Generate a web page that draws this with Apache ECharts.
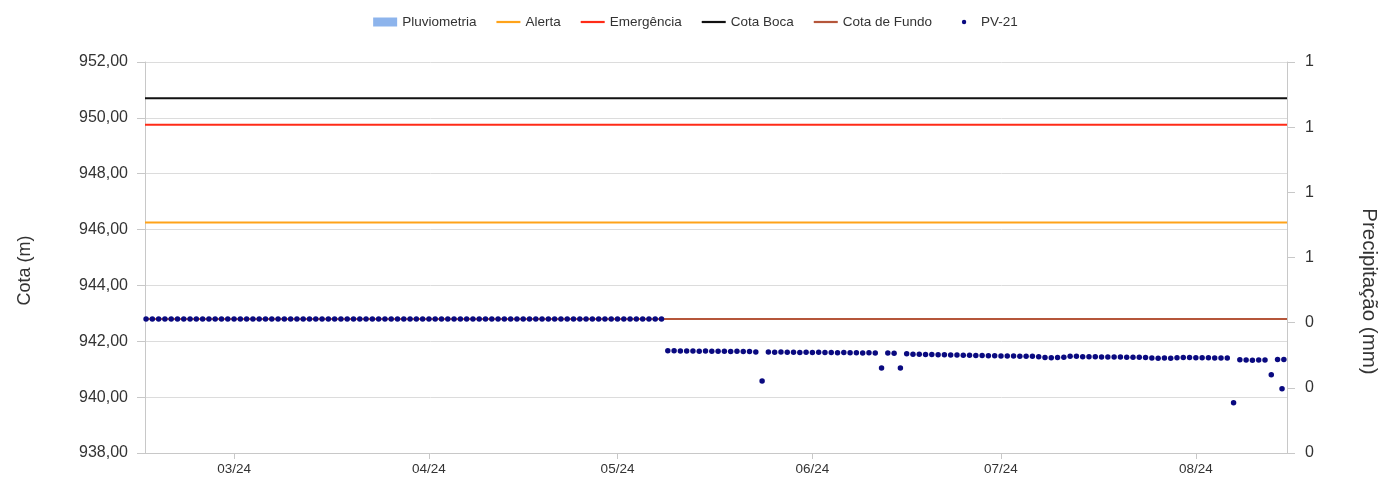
<!DOCTYPE html>
<html>
<head>
<meta charset="utf-8">
<script src="https://cdn.jsdelivr.net/npm/echarts@6/dist/echarts.min.js"></script>
<style>
html,body{margin:0;padding:0;background:#fff;}
#chart{width:1391px;height:480px;}
</style>
</head>
<body>
<div id="chart"></div>
<script>
// ---- data ----
const legendNames = ['Pluviometria', 'Alerta', 'Emergência', 'Cota Boca', 'Cota de Fundo', 'PV-21'];
const leftTicks = { min: 938, max: 952, step: 2 };
const rightTicks = { min: 0, max: 1.2, step: 0.2 };
const xRange = { start: [2024, 1, 15, 20], end: [2024, 7, 15, 12] };

const alerta = 946.25;
const emergencia = 949.75;
const cotaBoca = 950.70;
const cotaFundo = 942.80;

const pluviometria = []; // no rainfall recorded in the period

// PV-21 daily readings, first day 2024-02-16 (one value per day)
const pv21Start = [2024, 1, 16];
const pv21Daily = [
  942.80, 942.80, 942.80, 942.80, 942.80, 942.80, 942.80, 942.80, 942.80, 942.80,
  942.80, 942.80, 942.80, 942.80, 942.80, 942.80, 942.80, 942.80, 942.80, 942.80,
  942.80, 942.80, 942.80, 942.80, 942.80, 942.80, 942.80, 942.80, 942.80, 942.80,
  942.80, 942.80, 942.80, 942.80, 942.80, 942.80, 942.80, 942.80, 942.80, 942.80,
  942.80, 942.80, 942.80, 942.80, 942.80, 942.80, 942.80, 942.80, 942.80, 942.80,
  942.80, 942.80, 942.80, 942.80, 942.80, 942.80, 942.80, 942.80, 942.80, 942.80,
  942.80, 942.80, 942.80, 942.80, 942.80, 942.80, 942.80, 942.80, 942.80, 942.80,
  942.80, 942.80, 942.80, 942.80, 942.80, 942.80, 942.80, 942.80, 942.80, 942.80,
  942.80, 942.80, 942.80,
  941.66, 941.66, 941.65, 941.65, 941.65, 941.64, 941.65, 941.64, 941.64, 941.64,
  941.63, 941.64, 941.63, 941.63, 941.62,
  940.58,
  941.62, 941.61, 941.62, 941.61, 941.61, 941.60, 941.61, 941.60, 941.61, 941.60,
  941.60, 941.59, 941.60, 941.59, 941.59, 941.58, 941.59, 941.58,
  941.04,
  941.58, 941.57,
  941.04,
  941.55, 941.54, 941.54, 941.53, 941.53, 941.52, 941.52, 941.51, 941.51, 941.50,
  941.50, 941.49, 941.49, 941.48, 941.48, 941.47, 941.47, 941.47, 941.46, 941.46,
  941.46, 941.45,
  941.42, 941.41, 941.42, 941.43,
  941.46, 941.46, 941.45, 941.45, 941.45, 941.44, 941.44, 941.44, 941.44, 941.43,
  941.43, 941.43, 941.42,
  941.40, 941.39, 941.40, 941.39, 941.41,
  941.42, 941.42, 941.41, 941.41, 941.41, 941.40, 941.40, 941.40,
  939.80,
  941.34, 941.33, 941.32, 941.33, 941.33,
  940.80,
  941.35,
  941.35
];
// extra reading taken between daily readings
const pv21Extra = [[[2024, 7, 14, 17], 940.30]];

// ---- build ----
function ts(a) { return new Date(a[0], a[1], a[2], a[3] || 0).getTime(); }
const xMin = ts(xRange.start), xMax = ts(xRange.end);
const pv21 = pv21Daily.map((v, i) => [new Date(pv21Start[0], pv21Start[1], pv21Start[2] + i).getTime(), v]);
pv21Extra.forEach(e => pv21.push([ts(e[0]), e[1]]));
pv21.sort((a, b) => a[0] - b[0]);
const hline = v => [[xMin, v], [xMax, v]];

const FONT = '"Liberation Sans", Arial, sans-serif';
const LINE_ICON = 'path://M0,0L24,0L24,2.2L0,2.2Z';
const DOT_ICON = 'path://M0,0M24,9M12,2.3A2.2,2.2,0,1,1,12,6.7A2.2,2.2,0,1,1,12,2.3Z';
const chart = echarts.init(document.getElementById('chart'), null, { renderer: 'canvas' });
chart.setOption({
  animation: false,
  backgroundColor: '#fff',
  textStyle: { fontFamily: FONT },
  legend: {
    top: 10, left: 'center',
    itemWidth: 24, itemHeight: 9, itemGap: 20,
    textStyle: { fontFamily: FONT, fontSize: 13.5, color: '#333' },
    data: [
      { name: legendNames[0], icon: 'rect' },
      { name: legendNames[1], icon: LINE_ICON },
      { name: legendNames[2], icon: LINE_ICON },
      { name: legendNames[3], icon: LINE_ICON },
      { name: legendNames[4], icon: LINE_ICON },
      { name: legendNames[5], icon: DOT_ICON }
    ]
  },
  grid: { left: 145, right: 104, top: 62, bottom: 27 },
  xAxis: {
    type: 'time', min: xMin, max: xMax,
    minInterval: 28 * 86400000,
    axisLine: { show: true, lineStyle: { color: '#c8c8c8', width: 1 } },
    axisTick: { show: true, length: 6, lineStyle: { color: '#c8c8c8' } },
    splitLine: { show: false },
    axisLabel: {
      fontFamily: FONT, fontSize: 13.5, color: '#333', margin: 9,
      formatter: v => { const d = new Date(v); return String(d.getMonth() + 1).padStart(2, '0') + '/' + String(d.getFullYear()).slice(2); }
    }
  },
  yAxis: [{
    type: 'value', position: 'left',
    min: leftTicks.min, max: leftTicks.max, interval: leftTicks.step,
    name: 'Cota (m)', nameLocation: 'middle', nameGap: 111,
    nameTextStyle: { fontFamily: FONT, fontSize: 18, color: '#333', padding: [0, 26, 0, 0] },
    axisLine: { show: true, lineStyle: { color: '#c8c8c8' } },
    axisTick: { show: true, length: 8, lineStyle: { color: '#c8c8c8' } },
    splitLine: { show: true, lineStyle: { color: '#dcdcdc', width: 1 } },
    axisLabel: { fontFamily: FONT, fontSize: 16, color: '#333', margin: 17,
      formatter: v => v.toFixed(2).replace('.', ',') }
  }, {
    type: 'value', position: 'right',
    min: rightTicks.min, max: rightTicks.max, interval: rightTicks.step,
    name: 'Precipitação (mm)', nameLocation: 'middle', nameGap: 71, nameRotate: -90,
    nameTextStyle: { fontFamily: FONT, fontSize: 20.5, color: '#333', padding: [0, 0, 0, 68] },
    axisLine: { show: true, lineStyle: { color: '#c8c8c8' } },
    axisTick: { show: true, length: 8, lineStyle: { color: '#c8c8c8' } },
    splitLine: { show: false },
    axisLabel: { fontFamily: FONT, fontSize: 16, color: '#333', margin: 18,
      formatter: v => String(Math.round(v)) }
  }],
  series: [
    { name: legendNames[0], type: 'line', yAxisIndex: 1, data: pluviometria, symbol: 'none', areaStyle: { color: '#8db4ec' }, lineStyle: { color: '#8db4ec' }, itemStyle: { color: '#8db4ec' } },
    { name: legendNames[1], type: 'line', data: hline(alerta), symbol: 'none', lineStyle: { color: '#ffa31a', width: 2 }, itemStyle: { color: '#ffa31a' }, z: 2 },
    { name: legendNames[2], type: 'line', data: hline(emergencia), symbol: 'none', lineStyle: { color: '#ff2b17', width: 2 }, itemStyle: { color: '#ff2b17' }, z: 2 },
    { name: legendNames[3], type: 'line', data: hline(cotaBoca), symbol: 'none', lineStyle: { color: '#111111', width: 2 }, itemStyle: { color: '#111111' }, z: 2 },
    { name: legendNames[4], type: 'line', data: hline(cotaFundo), symbol: 'none', lineStyle: { color: '#b5563a', width: 2 }, itemStyle: { color: '#b5563a' }, z: 2 },
    { name: legendNames[5], type: 'scatter', data: pv21, symbol: 'circle', symbolSize: 5.5, itemStyle: { color: '#0a0a80', opacity: 1 }, z: 5 }
  ]
});
</script>
</body>
</html>
